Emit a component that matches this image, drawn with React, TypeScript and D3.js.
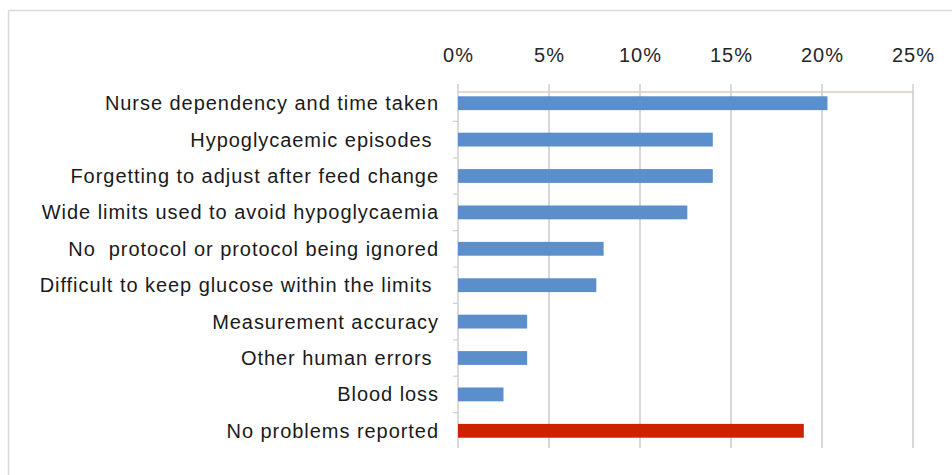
import React, { useRef, useEffect } from "react";
import * as d3 from "d3";

const categories = [
  "Nurse dependency and time taken",
  "Hypoglycaemic episodes ",
  "Forgetting to adjust after feed change",
  "Wide limits used to avoid hypoglycaemia",
  "No  protocol or protocol being ignored",
  "Difficult to keep glucose within the limits ",
  "Measurement accuracy",
  "Other human errors ",
  "Blood loss",
  "No problems reported",
];
const values = [20.3, 14.0, 14.0, 12.6, 8.0, 7.6, 3.8, 3.8, 2.5, 19.0];
const highlighted = ["No problems reported"];
const xTicks = [0, 5, 10, 15, 20, 25];

const WIDTH = 952;
const HEIGHT = 475;
const FONT = "'Liberation Sans', Arial, sans-serif";

export default function App() {
  const svgRef = useRef<SVGSVGElement>(null);

  useEffect(() => {
    if (!svgRef.current) return;
    const svg = d3.select(svgRef.current);
    svg.selectAll("*").remove();

    const x = d3.scaleLinear().domain([0, 25]).range([458, 913]);
    const y = d3
      .scaleBand<string>()
      .domain(categories)
      .range([85, 449])
      .paddingInner(0.62)
      .paddingOuter(0.31);

    const axisY = 92;
    const plotBottom = 448;

    // outer frame (only top/left visible in the crop)
    svg
      .append("path")
      .attr("d", `M8.5,${HEIGHT} V10.5 H${WIDTH}`)
      .attr("fill", "none")
      .attr("stroke", "#d9d9d9")
      .attr("stroke-width", 1.5);

    // vertical gridlines
    svg
      .append("g")
      .selectAll("line")
      .data(xTicks.filter((t) => t > 0))
      .join("line")
      .attr("x1", (d) => x(d))
      .attr("x2", (d) => x(d))
      .attr("y1", axisY)
      .attr("y2", plotBottom)
      .attr("stroke", "#cfcfcf")
      .attr("stroke-width", 1.6);

    // top axis line + ticks
    svg
      .append("line")
      .attr("x1", x(0))
      .attr("x2", x(25))
      .attr("y1", axisY)
      .attr("y2", axisY)
      .attr("stroke", "#dcccbf")
      .attr("stroke-width", 1.5);

    svg
      .append("g")
      .selectAll("line")
      .data(xTicks)
      .join("line")
      .attr("x1", (d) => x(d))
      .attr("x2", (d) => x(d))
      .attr("y1", axisY - 8)
      .attr("y2", axisY)
      .attr("stroke", "#cfcfcf")
      .attr("stroke-width", 1.5);

    // tick labels
    svg
      .append("g")
      .selectAll("text")
      .data(xTicks)
      .join("text")
      .attr("x", (d) => x(d) + 0.5)
      .attr("y", 54.5)
      .attr("dy", "0.35em")
      .attr("text-anchor", "middle")
      .attr("font-family", FONT)
      .attr("font-size", 20)
      .attr("letter-spacing", 1)
      .attr("fill", "#262626")
      .text((d) => `${d}%`);

    // left axis line + category separators
    svg
      .append("line")
      .attr("x1", x(0))
      .attr("x2", x(0))
      .attr("y1", axisY)
      .attr("y2", plotBottom)
      .attr("stroke", "#cfcfcf")
      .attr("stroke-width", 1.5);

    const step = y.step();
    svg
      .append("g")
      .selectAll("line")
      .data(categories.slice(1))
      .join("line")
      .attr("x1", x(0) - 5)
      .attr("x2", x(0))
      .attr("y1", (d) => (y(d) ?? 0) + y.bandwidth() / 2 - step / 2)
      .attr("y2", (d) => (y(d) ?? 0) + y.bandwidth() / 2 - step / 2)
      .attr("stroke", "#cfcfcf")
      .attr("stroke-width", 1.2);

    // bars
    svg
      .append("g")
      .selectAll("rect")
      .data(categories)
      .join("rect")
      .attr("x", x(0))
      .attr("y", (d) => y(d) ?? 0)
      .attr("width", (d, i) => x(values[i]) - x(0))
      .attr("height", y.bandwidth())
      .attr("fill", (d) => (highlighted.includes(d) ? "#cc2200" : "#5b8fcc"));

    // category labels
    svg
      .append("g")
      .selectAll("text")
      .data(categories)
      .join("text")
      .attr("x", 439)
      .attr("y", (d) => (y(d) ?? 0) + y.bandwidth() / 2)
      .attr("dy", "0.35em")
      .attr("text-anchor", "end")
      .attr("font-family", FONT)
      .attr("font-size", 20)
      .attr("letter-spacing", 0.95)
      .attr("fill", "#1a1a1a")
      .style("white-space", "pre")
      .text((d) => d);
  }, []);

  return (
    <svg
      ref={svgRef}
      width={WIDTH}
      height={HEIGHT}
      style={{ position: "absolute", left: 0, top: 0, display: "block", background: "#fff" }}
    />
  );
}
